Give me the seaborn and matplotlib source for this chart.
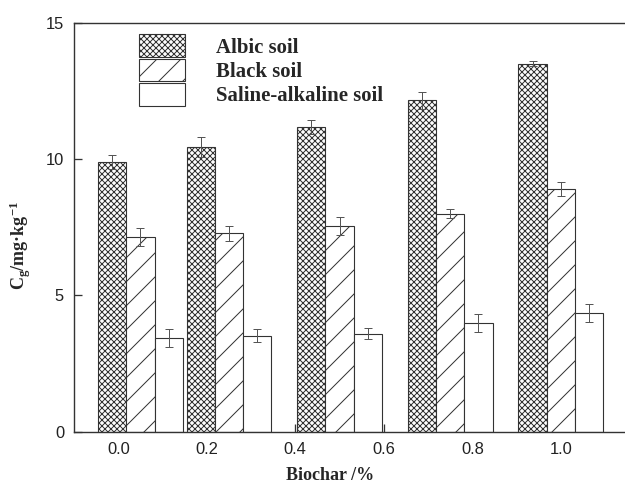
import matplotlib
matplotlib.use("Agg")
import matplotlib.pyplot as plt
import numpy as np
import pandas as pd
import seaborn as sns

# group positions on the biochar axis (bars are offset from the tick labels in the original)
biochar = [0.05, 0.25, 0.5, 0.75, 1.0]
soils = ["Albic soil", "Black soil", "Saline-alkaline soil"]

albic = [9.89, 10.44, 11.17, 12.15, 13.49]
albic_err = [0.24, 0.37, 0.27, 0.30, 0.09]
black = [7.14, 7.27, 7.55, 8.00, 8.89]
black_err = [0.32, 0.29, 0.32, 0.16, 0.25]
saline = [3.42, 3.52, 3.60, 3.97, 4.36]
saline_err = [0.33, 0.23, 0.19, 0.33, 0.33]

x_ticks = [0.0, 0.2, 0.4, 0.6, 0.8, 1.0]
y_ticks = [0, 5, 10, 15]


def build_frame():
    rows = []
    for soil, vals, errs in zip(soils, [albic, black, saline],
                                [albic_err, black_err, saline_err]):
        for b, v, e in zip(biochar, vals, errs):
            rows.append({"biochar": b, "value": v, "err": e, "soil": soil})
    return pd.DataFrame(rows)


def main():
    sns.set_style("ticks")
    plt.rcParams["font.family"] = ["Liberation Sans", "DejaVu Sans"]
    plt.rcParams["mathtext.default"] = "regular"
    plt.rcParams["hatch.linewidth"] = 1.0

    df = build_frame()

    # dpi 72 so one point is one pixel and hatch spacing matches the original
    fig = plt.figure(figsize=(625 / 72, 488 / 72), dpi=72)
    ax = fig.add_axes([74 / 625, (488 - 431.7) / 488, 551 / 625, 409 / 488])

    sns.barplot(data=df, x="biochar", y="value", hue="soil", hue_order=soils,
                native_scale=True, errorbar=None, width=0.957, gap=0,
                palette=["white"] * 3, edgecolor="#333333", linewidth=1.1,
                legend=False, ax=ax)

    hatches = ["xxxx", "/", ""]
    errs = [albic_err, black_err, saline_err]
    for cont, hatch, err in zip(ax.containers, hatches, errs):
        xs, ys = [], []
        for bar in cont.patches:
            bar.set_hatch(hatch)
            xs.append(bar.get_x() + bar.get_width() / 2)
            ys.append(bar.get_height())
        ax.errorbar(xs, ys, yerr=err, fmt="none", ecolor="#555555",
                    elinewidth=1, capsize=4, capthick=1)

    ax.set_xlim(-0.100, 1.145)
    ax.set_ylim(0, 15)
    ax.set_xticks(x_ticks)
    ax.set_xticklabels([f"{t:.1f}" for t in x_ticks])
    ax.set_yticks(y_ticks)
    ax.tick_params(direction="in", length=8, width=1.3, color="#333333",
                   labelsize=16.5, pad=10, labelcolor="#222222")

    for side in ["left", "bottom", "top"]:
        ax.spines[side].set_linewidth(1.4)
        ax.spines[side].set_color("#333333")
    ax.spines["right"].set_visible(False)

    label_font = {"family": "Liberation Serif", "weight": "bold", "size": 18}
    ax.set_xlabel("Biochar /%", fontdict=label_font)
    ax.xaxis.set_label_coords(0.465, -0.086)
    ax.set_ylabel("C$_g$/mg·kg$^{-1}$", fontdict=label_font)
    ax.yaxis.set_label_coords(-0.074, 0.456)

    ax.legend(ax.containers, soils, loc="upper left",
              bbox_to_anchor=(129 / 625, 1 - 24 / 488),
              bbox_transform=fig.transFigure, frameon=False,
              borderpad=0, handlelength=2.2, handleheight=1.29,
              handletextpad=1.5, labelspacing=0.05,
              prop={"family": "Liberation Serif", "weight": "bold", "size": 20.8})

    fig.savefig("out.png", dpi=72)


if __name__ == "__main__":
    main()
